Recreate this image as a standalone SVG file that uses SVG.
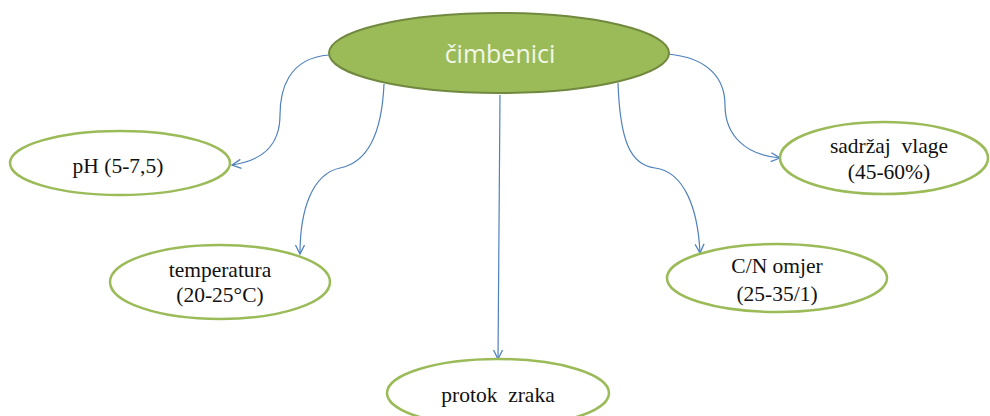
<svg xmlns="http://www.w3.org/2000/svg" width="990" height="416" viewBox="0 0 990 416">
<style>
.leaf{fill:#ffffff;stroke:#9bbb59;stroke-width:2.5}
.root{fill:#9bbb59;stroke:#71893f;stroke-width:2}
.t{font-family:'Liberation Serif',serif;font-size:21.5px;fill:#111;text-anchor:middle}
.rt{font-family:'Open Sans','Liberation Sans',sans-serif;font-size:25px;fill:#f2f7e8;text-anchor:middle}
.c{fill:none;stroke:#4f81bd;stroke-width:1.2}
</style>
<defs>
<marker id="arr" markerWidth="12" markerHeight="12" refX="10" refY="5" orient="auto" markerUnits="userSpaceOnUse" viewBox="0 0 12 12">
<path d="M1,0.5 L10,5 L1,9.5" fill="none" stroke="#4f81bd" stroke-width="1.3"/>
</marker>
</defs>
<rect width="990" height="416" fill="#ffffff"/>
<g id="connectors">
<path class="c" marker-end="url(#arr)" d="M329,55 C287,58 280,92 280,115 C280,145 262,161 232,165"/>
<path class="c" marker-end="url(#arr)" d="M384,84 C382,130 370,162 340,168 C312,174 300,210 300,254"/>
<path class="c" marker-end="url(#arr)" d="M500,95 L498,359"/>
<path class="c" marker-end="url(#arr)" d="M618,83 C620,140 630,165 655,168 C685,172 698,210 700,253"/>
<path class="c" marker-end="url(#arr)" d="M668,54 C710,58 725,80 725,105 C725,135 745,155 780,158"/>
</g>
<g id="root">
<ellipse class="root" cx="499" cy="53" rx="170" ry="40"/>
<text class="rt" x="500" y="63">čimbenici</text>
</g>
<g id="ph">
<ellipse class="leaf" cx="120" cy="163" rx="110" ry="32"/>
<text class="t" x="118" y="173">pH (5-7,5)</text>
</g>
<g id="temperatura">
<ellipse class="leaf" cx="220" cy="282" rx="110" ry="37"/>
<text class="t" x="220" y="277">temperatura</text>
<text class="t" x="220" y="302">(20-25°C)</text>
</g>
<g id="protok">
<ellipse class="leaf" cx="498" cy="393" rx="111" ry="34"/>
<text class="t" x="498" y="402" xml:space="preserve">protok  zraka</text>
</g>
<g id="cn">
<ellipse class="leaf" cx="777" cy="278" rx="110" ry="34"/>
<text class="t" x="777" y="273">C/N omjer</text>
<text class="t" x="777" y="301">(25-35/1)</text>
</g>
<g id="vlaga">
<ellipse class="leaf" cx="884" cy="158" rx="104" ry="36"/>
<text class="t" x="889" y="153" xml:space="preserve">sadržaj  vlage</text>
<text class="t" x="889" y="179">(45-60%)</text>
</g>
</svg>
